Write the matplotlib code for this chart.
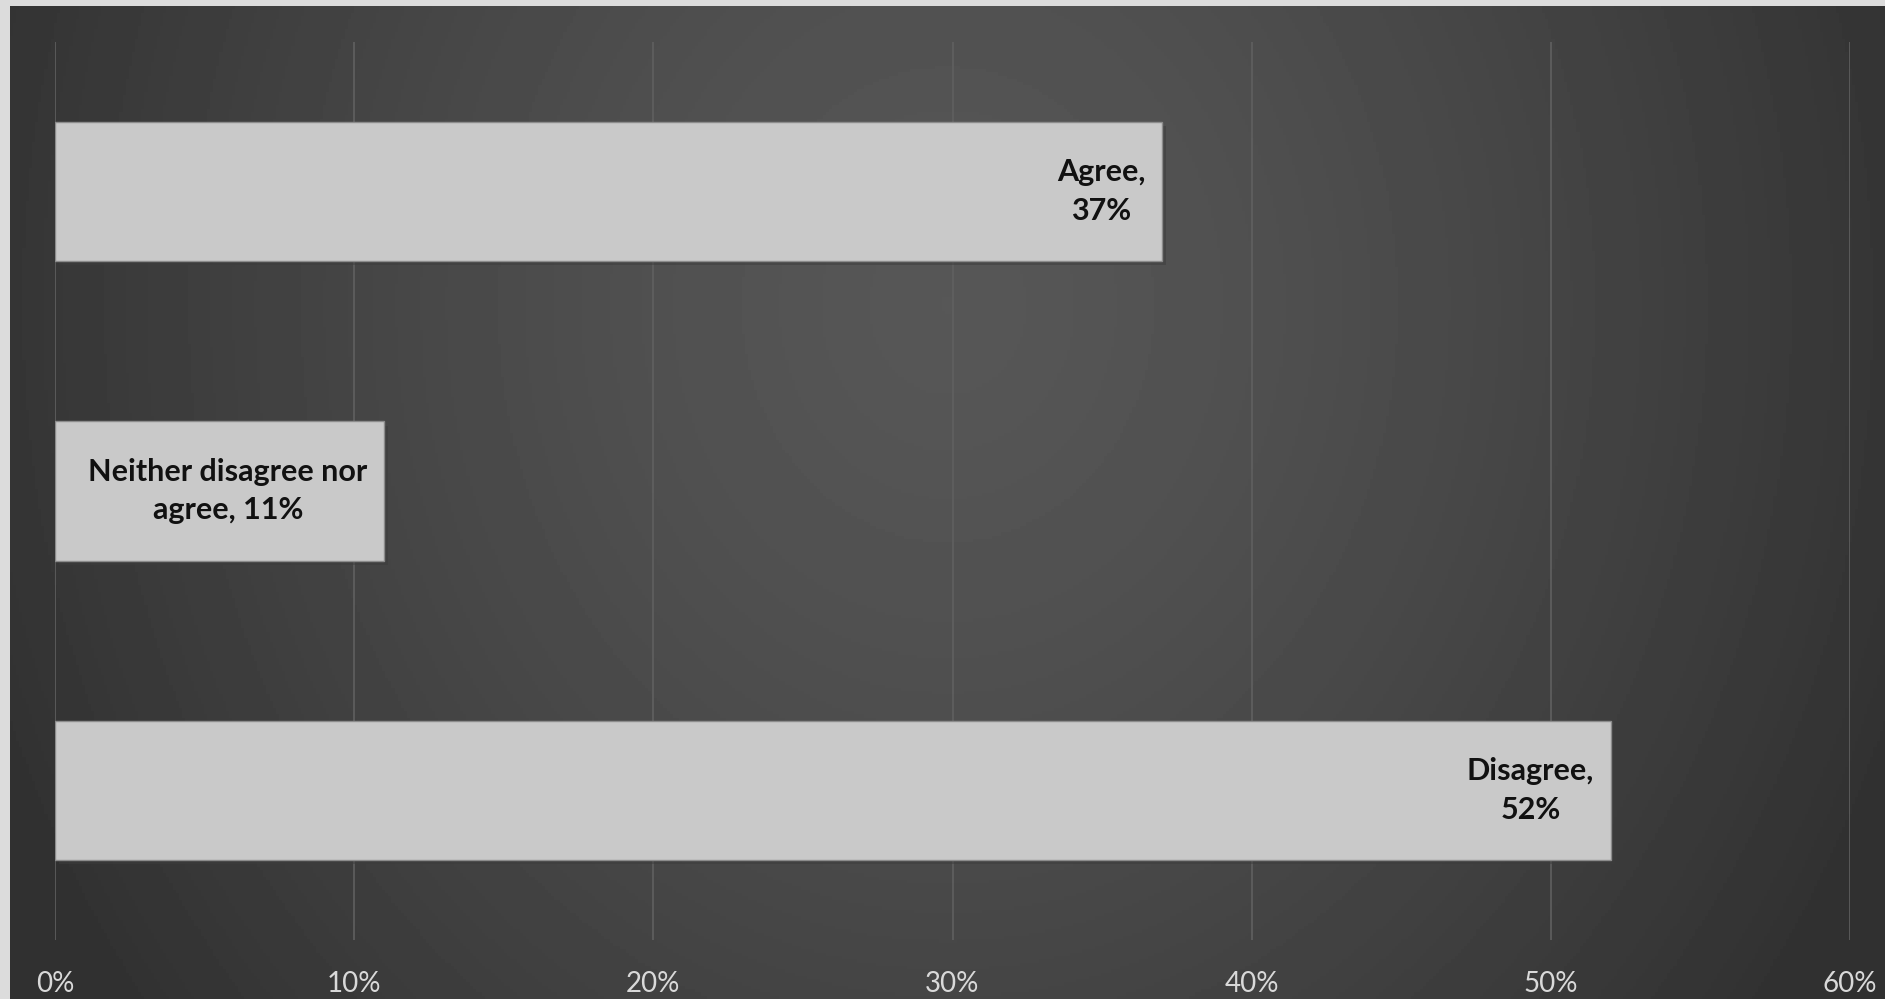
import numpy as np
import matplotlib.pyplot as plt
import matplotlib.patheffects as pe
from matplotlib.ticker import FuncFormatter

# data
categories = ["Disagree", "Neither disagree nor\nagree", "Agree"]
values = [52, 11, 37]
bar_labels = ["Disagree,\n52%", "Neither disagree nor\nagree, 11%", "Agree,\n37%"]
xticks = [0, 10, 20, 30, 40, 50, 60]

W, H = 1885, 999
fig = plt.figure(figsize=(W / 100, H / 100), dpi=100, facecolor="#dcdcdc")

# dark panel with soft gradient, lighter toward the middle
bg = fig.add_axes([10 / W, 0, (W - 10) / W, (H - 6) / H])
yy, xx = np.mgrid[0:1:300j, 0:1:600j]
r = np.sqrt(((xx - 0.5) / 0.55) ** 2 + ((yy - 0.3) / 1.2) ** 2)
shade = 0.34 - 0.15 * np.clip(r, 0, 1) ** 1.4
bg.imshow(shade, cmap="gray", vmin=0, vmax=1, aspect="auto", extent=[0, 1, 1, 0])
bg.axis("off")
bg.set_zorder(0)

# main axes
ax = fig.add_axes([55 / W, (H - 940) / H, 1795 / W, 898 / H])
ax.set_zorder(1)
ax.patch.set_alpha(0)

y = np.arange(len(categories))
bars = ax.barh(y, values, height=0.465, color="#c9c9c9", edgecolor="#8c8c8c",
               linewidth=1, zorder=3)
for b in bars:
    b.set_path_effects([pe.SimplePatchShadow(offset=(3, -3), alpha=0.5), pe.Normal()])

for b, lab in zip(bars, bar_labels):
    ax.annotate(lab, xy=(b.get_width(), b.get_y() + b.get_height() / 2),
                xytext=(-12, 0), textcoords="offset points", ha="right", va="center",
                multialignment="center", fontsize=22, fontweight="bold",
                family="Lato", color="#111111", linespacing=1.45, zorder=4)

ax.set_xlim(0, 60)
ax.set_ylim(-0.5, 2.5)
ax.set_xticks(xticks)
ax.xaxis.set_major_formatter(FuncFormatter(lambda v, p: f"{v:.0f}%"))
ax.set_yticks([])
ax.tick_params(axis="x", length=0, pad=22, labelsize=20, labelcolor="#d9d9d9")
for t in ax.get_xticklabels():
    t.set_family("Lato")
ax.grid(axis="x", color="#606060", linewidth=1.2, zorder=1)
for s in ax.spines.values():
    s.set_visible(False)

fig.savefig("out.png", dpi=100, facecolor=fig.get_facecolor())
